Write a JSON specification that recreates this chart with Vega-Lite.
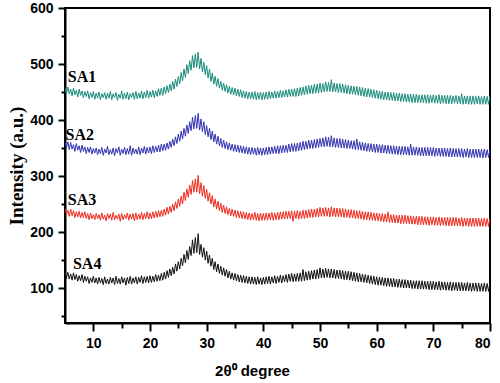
{
  "$schema": "https://vega.github.io/schema/vega-lite/v6.json",
  "width": 425,
  "height": 315,
  "autosize": {"type": "none"},
  "padding": {"left": 65, "top": 8, "right": 10, "bottom": 60},
  "background": "white",
  "config": {
    "view": {"stroke": "black", "strokeWidth": 2},
    "axis": {
      "domainColor": "black", "domainWidth": 2, "tickColor": "black", "tickWidth": 2,
      "labelFont": "Liberation Sans", "labelFontWeight": "bold", "labelFontSize": 14, "labelColor": "black",
      "labelOverlap": false, "titleColor": "black", "grid": false
    }
  },
  "layer": [
    {
      "data": {"values": [
        {"x":5,"a":458,"b":360,"c":242,"d":128},
        {"x":5.25,"a":446,"b":350,"c":231,"d":117},
        {"x":5.5,"a":459,"b":361,"c":239,"d":128},
        {"x":5.75,"a":447,"b":347,"c":228,"d":116},
        {"x":6,"a":455,"b":360,"c":241,"d":125},
        {"x":6.25,"a":443,"b":348,"c":229,"d":114},
        {"x":6.5,"a":457,"b":356,"c":238,"d":127},
        {"x":6.75,"a":445,"b":344,"c":226,"d":115},
        {"x":7,"a":453,"b":358,"c":236,"d":124},
        {"x":7.25,"a":441,"b":346,"c":227,"d":112},
        {"x":7.5,"a":455,"b":354,"c":237,"d":122},
        {"x":7.75,"a":444,"b":342,"c":225,"d":113},
        {"x":8,"a":452,"b":355,"c":235,"d":124},
        {"x":8.25,"a":440,"b":344,"c":226,"d":110},
        {"x":8.5,"a":451,"b":352,"c":236,"d":121},
        {"x":8.75,"a":442,"b":340,"c":224,"d":112},
        {"x":9,"a":452,"b":351,"c":233,"d":120},
        {"x":9.25,"a":438,"b":342,"c":222,"d":108},
        {"x":9.5,"a":449,"b":352,"c":234,"d":118},
        {"x":9.75,"a":440,"b":339,"c":224,"d":110},
        {"x":10,"a":451,"b":349,"c":231,"d":121},
        {"x":10.25,"a":437,"b":341,"c":222,"d":109},
        {"x":10.5,"a":448,"b":350,"c":233,"d":118},
        {"x":10.75,"a":439,"b":338,"c":224,"d":107},
        {"x":11,"a":450,"b":348,"c":231,"d":119},
        {"x":11.25,"a":436,"b":340,"c":221,"d":109},
        {"x":11.5,"a":447,"b":351,"c":234,"d":117},
        {"x":11.75,"a":440,"b":337,"c":223,"d":106},
        {"x":12,"a":449,"b":348,"c":230,"d":120},
        {"x":12.25,"a":437,"b":341,"c":220,"d":108},
        {"x":12.5,"a":448,"b":353,"c":233,"d":116},
        {"x":12.75,"a":439,"b":338,"c":224,"d":107},
        {"x":13,"a":451,"b":347,"c":232,"d":119},
        {"x":13.25,"a":436,"b":339,"c":221,"d":109},
        {"x":13.5,"a":447,"b":350,"c":235,"d":118},
        {"x":13.75,"a":440,"b":336,"c":222,"d":106},
        {"x":14,"a":449,"b":349,"c":230,"d":121},
        {"x":14.25,"a":435,"b":341,"c":223,"d":108},
        {"x":14.5,"a":446,"b":352,"c":232,"d":117},
        {"x":14.75,"a":439,"b":337,"c":219,"d":107},
        {"x":15,"a":452,"b":348,"c":233,"d":120},
        {"x":15.25,"a":437,"b":340,"c":222,"d":109},
        {"x":15.5,"a":448,"b":351,"c":231,"d":118},
        {"x":15.75,"a":438,"b":338,"c":224,"d":105},
        {"x":16,"a":450,"b":349,"c":234,"d":119},
        {"x":16.25,"a":436,"b":339,"c":221,"d":108},
        {"x":16.5,"a":447,"b":354,"c":232,"d":121},
        {"x":16.75,"a":440,"b":337,"c":223,"d":107},
        {"x":17,"a":449,"b":350,"c":233,"d":118},
        {"x":17.25,"a":437,"b":340,"c":220,"d":109},
        {"x":17.5,"a":451,"b":348,"c":234,"d":120},
        {"x":17.75,"a":438,"b":339,"c":222,"d":107},
        {"x":18,"a":448,"b":352,"c":232,"d":119},
        {"x":18.25,"a":439,"b":338,"c":223,"d":110},
        {"x":18.5,"a":452,"b":350,"c":235,"d":122},
        {"x":18.75,"a":438,"b":341,"c":222,"d":108},
        {"x":19,"a":450,"b":353,"c":233,"d":120},
        {"x":19.25,"a":440,"b":339,"c":224,"d":110},
        {"x":19.5,"a":453,"b":351,"c":236,"d":121},
        {"x":19.75,"a":439,"b":341,"c":223,"d":109},
        {"x":20,"a":451,"b":352,"c":234,"d":122},
        {"x":20.25,"a":441,"b":340,"c":224,"d":110},
        {"x":20.5,"a":453,"b":354,"c":236,"d":121},
        {"x":20.75,"a":440,"b":342,"c":225,"d":111},
        {"x":21,"a":452,"b":353,"c":237,"d":124},
        {"x":21.25,"a":442,"b":343,"c":226,"d":112},
        {"x":21.5,"a":456,"b":355,"c":238,"d":123},
        {"x":21.75,"a":444,"b":343,"c":227,"d":113},
        {"x":22,"a":457,"b":357,"c":239,"d":126},
        {"x":22.25,"a":444,"b":345,"c":228,"d":114},
        {"x":22.5,"a":459,"b":357,"c":241,"d":128},
        {"x":22.75,"a":447,"b":346,"c":230,"d":116},
        {"x":23,"a":461,"b":359,"c":244,"d":131},
        {"x":23.25,"a":449,"b":348,"c":232,"d":119},
        {"x":23.5,"a":464,"b":362,"c":246,"d":134},
        {"x":23.75,"a":452,"b":351,"c":235,"d":122},
        {"x":24,"a":469,"b":366,"c":250,"d":137},
        {"x":24.25,"a":455,"b":354,"c":238,"d":125},
        {"x":24.5,"a":473,"b":370,"c":254,"d":143},
        {"x":24.75,"a":460,"b":358,"c":242,"d":130},
        {"x":25,"a":478,"b":375,"c":259,"d":147},
        {"x":25.25,"a":465,"b":362,"c":246,"d":134},
        {"x":25.5,"a":485,"b":380,"c":264,"d":153},
        {"x":25.75,"a":470,"b":366,"c":250,"d":140},
        {"x":26,"a":491,"b":385,"c":271,"d":160},
        {"x":26.25,"a":476,"b":371,"c":256,"d":145},
        {"x":26.5,"a":499,"b":391,"c":277,"d":167},
        {"x":26.75,"a":483,"b":376,"c":262,"d":151},
        {"x":27,"a":506,"b":397,"c":284,"d":174},
        {"x":27.25,"a":489,"b":381,"c":267,"d":158},
        {"x":27.5,"a":515,"b":405,"c":292,"d":186},
        {"x":27.75,"a":493,"b":384,"c":271,"d":162},
        {"x":28,"a":518,"b":408,"c":295,"d":190},
        {"x":28.25,"a":494,"b":385,"c":271,"d":163},
        {"x":28.5,"a":521,"b":412,"c":301,"d":197},
        {"x":28.75,"a":491,"b":382,"c":268,"d":160},
        {"x":29,"a":510,"b":402,"c":288,"d":178},
        {"x":29.25,"a":486,"b":379,"c":264,"d":155},
        {"x":29.5,"a":503,"b":397,"c":283,"d":172},
        {"x":29.75,"a":481,"b":374,"c":260,"d":150},
        {"x":30,"a":497,"b":390,"c":276,"d":166},
        {"x":30.25,"a":475,"b":370,"c":255,"d":144},
        {"x":30.5,"a":491,"b":385,"c":270,"d":159},
        {"x":30.75,"a":469,"b":365,"c":250,"d":139},
        {"x":31,"a":484,"b":380,"c":265,"d":153},
        {"x":31.25,"a":464,"b":361,"c":245,"d":133},
        {"x":31.5,"a":478,"b":375,"c":259,"d":147},
        {"x":31.75,"a":460,"b":357,"c":241,"d":129},
        {"x":32,"a":474,"b":371,"c":255,"d":143},
        {"x":32.25,"a":457,"b":354,"c":238,"d":126},
        {"x":32.5,"a":469,"b":367,"c":251,"d":139},
        {"x":32.75,"a":453,"b":351,"c":235,"d":123},
        {"x":33,"a":466,"b":364,"c":248,"d":136},
        {"x":33.25,"a":451,"b":349,"c":233,"d":121},
        {"x":33.5,"a":463,"b":361,"c":245,"d":133},
        {"x":33.75,"a":448,"b":347,"c":231,"d":118},
        {"x":34,"a":460,"b":359,"c":242,"d":130},
        {"x":34.25,"a":446,"b":346,"c":229,"d":116},
        {"x":34.5,"a":458,"b":357,"c":241,"d":127},
        {"x":34.75,"a":445,"b":344,"c":228,"d":114},
        {"x":35,"a":457,"b":356,"c":239,"d":126},
        {"x":35.25,"a":443,"b":343,"c":226,"d":113},
        {"x":35.5,"a":455,"b":355,"c":238,"d":124},
        {"x":35.75,"a":442,"b":342,"c":225,"d":111},
        {"x":36,"a":454,"b":354,"c":237,"d":123},
        {"x":36.25,"a":440,"b":341,"c":224,"d":110},
        {"x":36.5,"a":452,"b":353,"c":236,"d":122},
        {"x":36.75,"a":439,"b":340,"c":223,"d":109},
        {"x":37,"a":451,"b":352,"c":235,"d":121},
        {"x":37.25,"a":438,"b":339,"c":222,"d":108},
        {"x":37.5,"a":450,"b":351,"c":234,"d":120},
        {"x":37.75,"a":438,"b":338,"c":221,"d":107},
        {"x":38,"a":450,"b":351,"c":233,"d":120},
        {"x":38.25,"a":437,"b":339,"c":222,"d":107},
        {"x":38.5,"a":451,"b":350,"c":235,"d":119},
        {"x":38.75,"a":436,"b":337,"c":221,"d":106},
        {"x":39,"a":449,"b":351,"c":233,"d":120},
        {"x":39.25,"a":437,"b":338,"c":220,"d":107},
        {"x":39.5,"a":450,"b":350,"c":234,"d":118},
        {"x":39.75,"a":436,"b":337,"c":221,"d":106},
        {"x":40,"a":449,"b":350,"c":233,"d":119},
        {"x":40.25,"a":437,"b":338,"c":221,"d":107},
        {"x":40.5,"a":450,"b":351,"c":234,"d":120},
        {"x":40.75,"a":437,"b":338,"c":221,"d":108},
        {"x":41,"a":451,"b":352,"c":234,"d":121},
        {"x":41.25,"a":438,"b":339,"c":222,"d":107},
        {"x":41.5,"a":450,"b":352,"c":235,"d":120},
        {"x":41.75,"a":439,"b":340,"c":221,"d":109},
        {"x":42,"a":452,"b":353,"c":234,"d":122},
        {"x":42.25,"a":439,"b":340,"c":222,"d":108},
        {"x":42.5,"a":451,"b":354,"c":235,"d":121},
        {"x":42.75,"a":440,"b":340,"c":222,"d":110},
        {"x":43,"a":453,"b":354,"c":236,"d":123},
        {"x":43.25,"a":440,"b":341,"c":223,"d":109},
        {"x":43.5,"a":452,"b":355,"c":236,"d":122},
        {"x":43.75,"a":441,"b":342,"c":223,"d":111},
        {"x":44,"a":454,"b":355,"c":237,"d":124},
        {"x":44.25,"a":441,"b":342,"c":224,"d":110},
        {"x":44.5,"a":455,"b":357,"c":237,"d":125},
        {"x":44.75,"a":442,"b":343,"c":224,"d":112},
        {"x":45,"a":455,"b":358,"c":238,"d":126},
        {"x":45.25,"a":442,"b":344,"c":219,"d":111},
        {"x":45.5,"a":456,"b":358,"c":237,"d":125},
        {"x":45.75,"a":442,"b":344,"c":224,"d":112},
        {"x":46,"a":457,"b":359,"c":238,"d":126},
        {"x":46.25,"a":443,"b":345,"c":223,"d":112},
        {"x":46.5,"a":458,"b":360,"c":237,"d":127},
        {"x":46.75,"a":444,"b":346,"c":224,"d":112},
        {"x":47,"a":459,"b":362,"c":239,"d":133},
        {"x":47.25,"a":445,"b":347,"c":224,"d":113},
        {"x":47.5,"a":461,"b":362,"c":239,"d":129},
        {"x":47.75,"a":446,"b":348,"c":225,"d":114},
        {"x":48,"a":462,"b":364,"c":240,"d":130},
        {"x":48.25,"a":447,"b":349,"c":226,"d":115},
        {"x":48.5,"a":462,"b":364,"c":241,"d":131},
        {"x":48.75,"a":447,"b":349,"c":226,"d":116},
        {"x":49,"a":464,"b":365,"c":241,"d":132},
        {"x":49.25,"a":448,"b":350,"c":227,"d":116},
        {"x":49.5,"a":464,"b":366,"c":242,"d":133},
        {"x":49.75,"a":448,"b":351,"c":227,"d":117},
        {"x":50,"a":466,"b":367,"c":244,"d":136},
        {"x":50.25,"a":449,"b":352,"c":228,"d":118},
        {"x":50.5,"a":465,"b":368,"c":243,"d":134},
        {"x":50.75,"a":450,"b":352,"c":228,"d":118},
        {"x":51,"a":468,"b":370,"c":244,"d":135},
        {"x":51.25,"a":451,"b":353,"c":228,"d":119},
        {"x":51.5,"a":467,"b":369,"c":243,"d":134},
        {"x":51.75,"a":451,"b":352,"c":227,"d":118},
        {"x":52,"a":472,"b":372,"c":245,"d":134},
        {"x":52.25,"a":450,"b":352,"c":228,"d":118},
        {"x":52.5,"a":466,"b":368,"c":243,"d":133},
        {"x":52.75,"a":450,"b":351,"c":227,"d":117},
        {"x":53,"a":465,"b":367,"c":243,"d":132},
        {"x":53.25,"a":449,"b":351,"c":227,"d":117},
        {"x":53.5,"a":465,"b":367,"c":242,"d":132},
        {"x":53.75,"a":449,"b":350,"c":227,"d":116},
        {"x":54,"a":464,"b":366,"c":242,"d":131},
        {"x":54.25,"a":448,"b":350,"c":226,"d":115},
        {"x":54.5,"a":463,"b":365,"c":241,"d":130},
        {"x":54.75,"a":447,"b":349,"c":226,"d":115},
        {"x":55,"a":462,"b":364,"c":240,"d":130},
        {"x":55.25,"a":446,"b":349,"c":225,"d":114},
        {"x":55.5,"a":461,"b":363,"c":240,"d":129},
        {"x":55.75,"a":446,"b":348,"c":225,"d":113},
        {"x":56,"a":460,"b":363,"c":239,"d":128},
        {"x":56.25,"a":445,"b":347,"c":224,"d":112},
        {"x":56.5,"a":460,"b":366,"c":238,"d":127},
        {"x":56.75,"a":444,"b":347,"c":224,"d":111},
        {"x":57,"a":459,"b":361,"c":238,"d":126},
        {"x":57.25,"a":443,"b":346,"c":223,"d":111},
        {"x":57.5,"a":458,"b":360,"c":237,"d":125},
        {"x":57.75,"a":442,"b":345,"c":222,"d":110},
        {"x":58,"a":457,"b":359,"c":236,"d":124},
        {"x":58.25,"a":441,"b":344,"c":222,"d":109},
        {"x":58.5,"a":456,"b":358,"c":236,"d":123},
        {"x":58.75,"a":441,"b":344,"c":221,"d":108},
        {"x":59,"a":455,"b":358,"c":235,"d":122},
        {"x":59.25,"a":440,"b":343,"c":221,"d":107},
        {"x":59.5,"a":454,"b":357,"c":234,"d":121},
        {"x":59.75,"a":439,"b":342,"c":220,"d":106},
        {"x":60,"a":453,"b":357,"c":234,"d":120},
        {"x":60.25,"a":438,"b":342,"c":220,"d":105},
        {"x":60.5,"a":452,"b":356,"c":233,"d":119},
        {"x":60.75,"a":437,"b":341,"c":219,"d":105},
        {"x":61,"a":451,"b":356,"c":233,"d":119},
        {"x":61.25,"a":436,"b":341,"c":218,"d":104},
        {"x":61.5,"a":450,"b":355,"c":232,"d":118},
        {"x":61.75,"a":436,"b":340,"c":218,"d":103},
        {"x":62,"a":450,"b":355,"c":236,"d":118},
        {"x":62.25,"a":435,"b":340,"c":217,"d":103},
        {"x":62.5,"a":449,"b":354,"c":231,"d":117},
        {"x":62.75,"a":435,"b":339,"c":217,"d":102},
        {"x":63,"a":449,"b":354,"c":231,"d":117},
        {"x":63.25,"a":434,"b":339,"c":216,"d":102},
        {"x":63.5,"a":448,"b":353,"c":230,"d":116},
        {"x":63.75,"a":434,"b":338,"c":216,"d":101},
        {"x":64,"a":448,"b":353,"c":230,"d":116},
        {"x":64.25,"a":433,"b":338,"c":215,"d":101},
        {"x":64.5,"a":447,"b":353,"c":230,"d":115},
        {"x":64.75,"a":433,"b":338,"c":215,"d":100},
        {"x":65,"a":447,"b":353,"c":230,"d":115},
        {"x":65.25,"a":432,"b":338,"c":215,"d":100},
        {"x":65.5,"a":446,"b":352,"c":229,"d":114},
        {"x":65.75,"a":432,"b":337,"c":215,"d":100},
        {"x":66,"a":446,"b":357,"c":229,"d":114},
        {"x":66.25,"a":431,"b":337,"c":214,"d":99},
        {"x":66.5,"a":446,"b":352,"c":228,"d":113},
        {"x":66.75,"a":431,"b":337,"c":214,"d":99},
        {"x":67,"a":446,"b":352,"c":228,"d":113},
        {"x":67.25,"a":431,"b":337,"c":213,"d":98},
        {"x":67.5,"a":445,"b":351,"c":228,"d":113},
        {"x":67.75,"a":431,"b":336,"c":213,"d":98},
        {"x":68,"a":445,"b":351,"c":228,"d":113},
        {"x":68.25,"a":431,"b":336,"c":213,"d":98},
        {"x":68.5,"a":445,"b":351,"c":227,"d":112},
        {"x":68.75,"a":430,"b":336,"c":213,"d":98},
        {"x":69,"a":445,"b":351,"c":227,"d":112},
        {"x":69.25,"a":430,"b":336,"c":212,"d":97},
        {"x":69.5,"a":444,"b":351,"c":227,"d":112},
        {"x":69.75,"a":431,"b":336,"c":213,"d":97},
        {"x":70,"a":445,"b":351,"c":227,"d":112},
        {"x":70.25,"a":430,"b":335,"c":212,"d":97},
        {"x":70.5,"a":444,"b":350,"c":226,"d":111},
        {"x":70.75,"a":430,"b":336,"c":212,"d":97},
        {"x":71,"a":445,"b":350,"c":227,"d":112},
        {"x":71.25,"a":429,"b":335,"c":211,"d":96},
        {"x":71.5,"a":444,"b":350,"c":226,"d":111},
        {"x":71.75,"a":430,"b":335,"c":212,"d":97},
        {"x":72,"a":444,"b":350,"c":226,"d":111},
        {"x":72.25,"a":429,"b":335,"c":211,"d":96},
        {"x":72.5,"a":444,"b":349,"c":226,"d":110},
        {"x":72.75,"a":429,"b":334,"c":211,"d":96},
        {"x":73,"a":444,"b":350,"c":226,"d":111},
        {"x":73.25,"a":429,"b":334,"c":211,"d":95},
        {"x":73.5,"a":443,"b":349,"c":226,"d":110},
        {"x":73.75,"a":430,"b":334,"c":211,"d":96},
        {"x":74,"a":444,"b":349,"c":226,"d":110},
        {"x":74.25,"a":429,"b":334,"c":211,"d":95},
        {"x":74.5,"a":443,"b":349,"c":225,"d":110},
        {"x":74.75,"a":429,"b":334,"c":211,"d":95},
        {"x":75,"a":447,"b":349,"c":226,"d":110},
        {"x":75.25,"a":428,"b":333,"c":210,"d":95},
        {"x":75.5,"a":443,"b":348,"c":225,"d":109},
        {"x":75.75,"a":429,"b":334,"c":211,"d":95},
        {"x":76,"a":443,"b":349,"c":225,"d":110},
        {"x":76.25,"a":428,"b":333,"c":210,"d":95},
        {"x":76.5,"a":443,"b":348,"c":225,"d":109},
        {"x":76.75,"a":428,"b":333,"c":210,"d":94},
        {"x":77,"a":443,"b":348,"c":225,"d":109},
        {"x":77.25,"a":428,"b":333,"c":210,"d":95},
        {"x":77.5,"a":442,"b":348,"c":225,"d":109},
        {"x":77.75,"a":429,"b":333,"c":210,"d":94},
        {"x":78,"a":443,"b":348,"c":225,"d":109},
        {"x":78.25,"a":428,"b":333,"c":210,"d":94},
        {"x":78.5,"a":442,"b":348,"c":224,"d":108},
        {"x":78.75,"a":428,"b":332,"c":210,"d":94},
        {"x":79,"a":443,"b":348,"c":225,"d":109},
        {"x":79.25,"a":428,"b":333,"c":210,"d":94},
        {"x":79.5,"a":442,"b":347,"c":224,"d":108},
        {"x":79.75,"a":428,"b":333,"c":210,"d":94},
        {"x":80,"a":443,"b":348,"c":225,"d":109}
      ]},
      "transform": [{"fold": ["a", "b", "c", "d"], "as": ["s", "y"]}],
      "mark": {"type": "line", "strokeWidth": 1, "clip": true},
      "encoding": {
        "x": {"field": "x", "type": "quantitative",
          "scale": {"domain": [5, 80], "nice": false, "zero": false},
          "axis": {
            "values": [10,15,20,25,30,35,40,45,50,55,60,65,70,75,80],
            "labelExpr": "datum.value % 10 == 0 ? datum.label : ''",
            "tickSize": {"condition": {"test": "datum.value % 10 == 0", "value": 8}, "value": 5},
            "labelPadding": 5,
            "title": "2θ⁰ degree",
            "titleFont": "Liberation Sans", "titleFontWeight": "bold", "titleFontSize": 15,
            "titleX": 187, "titleY": 52, "titleBaseline": "alphabetic", "titleAnchor": "middle"
          }},
        "y": {"field": "y", "type": "quantitative",
          "scale": {"domain": [37.5, 600], "nice": false, "zero": false},
          "axis": {
            "values": [50,100,150,200,250,300,350,400,450,500,550,600],
            "labelExpr": "abs(datum.value / 100 - round(datum.value / 100)) < 0.01 ? datum.label : ''",
            "tickSize": {"condition": {"test": "abs(datum.value / 100 - round(datum.value / 100)) < 0.01", "value": 7}, "value": 4},
            "labelPadding": 5,
            "title": "Intensity (a.u.)",
            "titleFont": "Liberation Serif", "titleFontWeight": "bold", "titleFontSize": 19,
            "titlePadding": 3
          }},
        "color": {"field": "s", "type": "nominal", "legend": null,
          "scale": {"domain": ["a", "b", "c", "d"], "range": ["#1a8c7c", "#3333b0", "#ee2a1c", "#111111"]}}
      }
    },
    {
      "data": {"values": [
        {"label": "SA1", "x": 5.5, "y": 477},
        {"label": "SA2", "x": 5.1, "y": 373},
        {"label": "SA3", "x": 5.5, "y": 257},
        {"label": "SA4", "x": 6.4, "y": 143}
      ]},
      "mark": {"type": "text", "font": "Liberation Serif", "fontWeight": "bold", "fontSize": 16, "align": "left", "baseline": "middle", "color": "black"},
      "encoding": {
        "x": {"field": "x", "type": "quantitative",
          "scale": {"domain": [5, 80], "nice": false, "zero": false},
          "axis": {
            "values": [10,15,20,25,30,35,40,45,50,55,60,65,70,75,80],
            "labelExpr": "datum.value % 10 == 0 ? datum.label : ''",
            "tickSize": {"condition": {"test": "datum.value % 10 == 0", "value": 8}, "value": 5},
            "labelPadding": 5,
            "title": "2θ⁰ degree",
            "titleFont": "Liberation Sans", "titleFontWeight": "bold", "titleFontSize": 15,
            "titleX": 187, "titleY": 52, "titleBaseline": "alphabetic", "titleAnchor": "middle"
          }},
        "y": {"field": "y", "type": "quantitative",
          "scale": {"domain": [37.5, 600], "nice": false, "zero": false},
          "axis": {
            "values": [50,100,150,200,250,300,350,400,450,500,550,600],
            "labelExpr": "abs(datum.value / 100 - round(datum.value / 100)) < 0.01 ? datum.label : ''",
            "tickSize": {"condition": {"test": "abs(datum.value / 100 - round(datum.value / 100)) < 0.01", "value": 7}, "value": 4},
            "labelPadding": 5,
            "title": "Intensity (a.u.)",
            "titleFont": "Liberation Serif", "titleFontWeight": "bold", "titleFontSize": 19,
            "titlePadding": 3
          }},
        "text": {"field": "label"}
      }
    }
  ]
}
